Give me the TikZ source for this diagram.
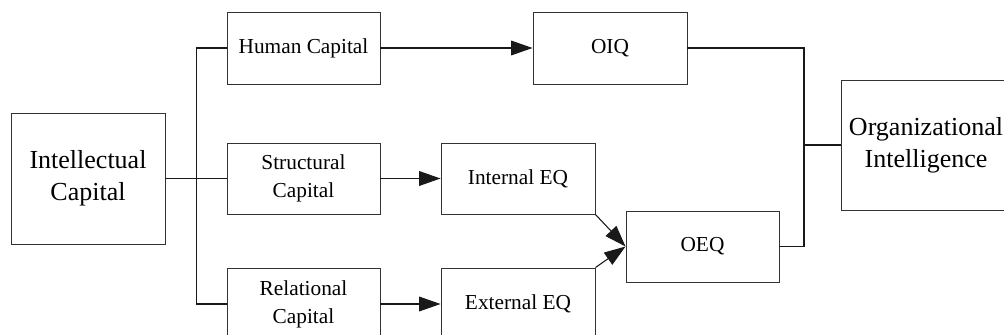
\documentclass[tikz,border=0pt]{standalone}
\usepackage{fontspec}
\setmainfont{Liberation Serif}
\usetikzlibrary{arrows.meta}
\begin{document}
\begin{tikzpicture}[x=0.75pt,y=-0.75pt,
  box/.style={draw=black!80,line width=0.7pt,inner sep=0pt,align=center,
    font=\fontsize{16}{21}\selectfont},
  bigbox/.style={box,font=\fontsize{19.5}{24}\selectfont},
  conn/.style={draw=black!90,line width=0.8pt},
  arr/.style={conn,-{Triangle[length=16pt,width=11pt]}}]
\useasboundingbox (0,0) rectangle (1004,335);
\node[bigbox,minimum width=115.5pt,minimum height=98.25pt] (IC) at (88,178.5) {Intellectual\\Capital};
\node[box,minimum width=114.75pt,minimum height=54pt] (HC) at (303.5,48) {Human Capital};
\node[box,minimum width=114.75pt,minimum height=53.25pt] (SC) at (303.5,178.5) {Structural\\Capital};
\node[box,minimum width=114.75pt,minimum height=54pt] (RC) at (303.5,304) {Relational\\Capital};
\node[box,minimum width=115.5pt,minimum height=54pt] (OIQ) at (610,48) {OIQ};
\node[box,minimum width=115.5pt,minimum height=53.25pt] (IEQ) at (518,178.5) {Internal EQ};
\node[box,minimum width=115.5pt,minimum height=54pt] (EEQ) at (518,304) {External EQ};
\node[box,minimum width=114.75pt,minimum height=53.25pt] (OEQ) at (702.5,246.5) {OEQ};
\node[bigbox,minimum width=127.5pt,minimum height=97.5pt] (OI) at (926,145) {Organizational\\Intelligence};
\coordinate (j) at (804,145);
\draw[conn] (IC.east) -- (SC.west);
\draw[conn] (HC.west) -- ++(-30,0) |- (RC.west);
\draw[arr] (HC.east) -- (OIQ.west);
\draw[arr] (SC.east) -- (IEQ.west);
\draw[arr] (RC.east) -- (EEQ.west);
\draw[arr] (IEQ.south east) -- (OEQ.west);
\draw[arr] (EEQ.north east) -- (OEQ.west);
\draw[conn] (OIQ.east) -| (j) |- (OEQ.east);
\draw[conn] (OI.west) -- (j);
\end{tikzpicture}
\end{document}
